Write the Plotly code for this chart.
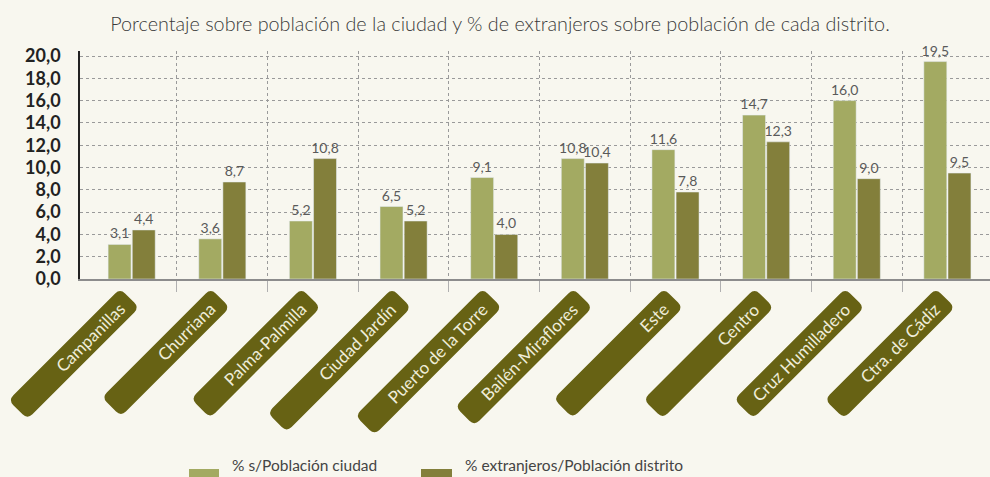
import math
import plotly.graph_objects as go

# ---------------- data ----------------
categories = ["Campanillas", "Churriana", "Palma-Palmilla", "Ciudad Jardín",
              "Puerto de la Torre", "Bailén-Miraflores", "Este", "Centro",
              "Cruz Humilladero", "Ctra. de Cádiz"]
pct_ciudad = [3.1, 3.6, 5.2, 6.5, 9.1, 10.8, 11.6, 14.7, 16.0, 19.5]
pct_extranjeros = [4.4, 8.7, 10.8, 5.2, 4.0, 10.4, 7.8, 12.3, 9.0, 9.5]
series_names = ["% s/Población ciudad", "% extranjeros/Población distrito"]
y_tick_values = [0, 2, 4, 6, 8, 10, 12, 14, 16, 18, 20]
title_text = "Porcentaje sobre población de la ciudad y % de extranjeros sobre población de cada distrito."

# ---------------- style ----------------
BG = "#f8f7ef"
C_LIGHT = "#a3aa62"
C_DARK = "#837f3b"
C_PILL = "#676214"
FONT = "Lato"
W, H = 990, 477
ML, MR, MT, MB = 80, 0, 51, 198
PW, PH = W - ML - MR, H - MT - MB
XR = [-0.57, 9.47]
YR = [0, 20.45]
# label-pill lengths (pixels along the pill axis), per category position
PILL_LENGTHS = [158, 154, 156, 176, 180, 167, 156, 157, 157, 157]
PILL_W, PILL_R = 27, 7

x_idx = list(range(len(categories)))


def xpaper(v):
    return (v - XR[0]) / (XR[1] - XR[0])


def ypaper_from_px(py):
    return (H - MB - py) / PH


fig = go.Figure()
for vals, name, col in [(pct_ciudad, series_names[0], C_LIGHT),
                        (pct_extranjeros, series_names[1], C_DARK)]:
    fig.add_trace(go.Bar(x=x_idx, y=vals, name=name,
                         marker_color=col, hovertext=categories,
                         texttemplate="%{y:.1f}", textposition="outside",
                         constraintext="none",
                         textfont=dict(family=FONT, size=14, color="#5a5a5a"),
                         cliponaxis=False, showlegend=False))

# ---------------- pill labels ----------------
S2 = math.sqrt(0.5)


def pill_path(L, Wd, r, dx):
    h = Wd / 2.0

    def pt(s, t):
        # screen coords (y down): axis a=(-S2,S2), perp p=(S2,S2)
        x = -s * S2 + t * S2 + dx
        y = s * S2 + t * S2
        return f"{x:.2f},{-y:.2f}"   # pixel mode: y up
    return ("M" + pt(r, -h) + " L" + pt(L - r, -h) + " Q" + pt(L, -h) + " " + pt(L, -h + r) +
            " L" + pt(L, h - r) + " Q" + pt(L, h) + " " + pt(L - r, h) +
            " L" + pt(r, h) + " Q" + pt(0, h) + " " + pt(0, h - r) +
            " L" + pt(0, -h + r) + " Q" + pt(0, -h) + " " + pt(r, -h) + " Z")


T_Y = ypaper_from_px(298)
DX_T = -2
shapes = []
annotations = []
for i, name in zip(x_idx, categories):
    shapes.append(dict(type="path", xref="paper", yref="paper",
                       xsizemode="pixel", ysizemode="pixel",
                       xanchor=xpaper(i), yanchor=T_Y,
                       path=pill_path(PILL_LENGTHS[i], PILL_W, PILL_R, DX_T),
                       fillcolor=C_PILL, line=dict(width=0), layer="above"))
    annotations.append(dict(x=xpaper(i), y=T_Y, xref="paper", yref="paper",
                            text=name, showarrow=False, textangle=-45,
                            xanchor="right", yanchor="top",
                            xshift=DX_T + 2.1, yshift=2.1,
                            font=dict(family=FONT, size=17, color="#efedd9")))

# ---------------- custom legend ----------------
leg_y0, leg_y1 = ypaper_from_px(485), ypaper_from_px(469)
leg_items = [(189, 219, 230, C_LIGHT, series_names[0]),
             (421, 452, 463, C_DARK, series_names[1])]
for x0, x1, xt, col, txt in leg_items:
    shapes.append(dict(type="rect", xref="paper", yref="paper",
                       x0=(x0 - ML) / PW, x1=(x1 - ML) / PW, y0=leg_y0, y1=leg_y1,
                       fillcolor=col, line=dict(width=0)))
    annotations.append(dict(x=(xt - ML) / PW, y=ypaper_from_px(465), xref="paper", yref="paper",
                            text=txt, showarrow=False, xanchor="left", yanchor="middle",
                            font=dict(family=FONT, size=15.5, color="#444444")))

fig.update_layout(
    width=W, height=H, autosize=False,
    margin=dict(l=ML, r=MR, t=MT, b=MB, pad=0),
    paper_bgcolor=BG, plot_bgcolor=BG,
    separators=",.",
    barmode="group", bargap=0.467, bargroupgap=0.05,
    title=dict(text=title_text, x=500 / W, xref="container", xanchor="center",
               y=1 - 24 / H, yref="container", yanchor="middle",
               font=dict(family=FONT, size=19.8, color="#3a3a3a", weight=300)),
    xaxis=dict(range=XR, tickmode="array", tickvals=[i + 0.5 for i in x_idx],
               showticklabels=False, showgrid=True, gridcolor="#9a9a9a",
               griddash="dot", gridwidth=1, ticks="outside", ticklen=11,
               tickcolor="#b0b0b0", tickwidth=1,
               showline=True, linecolor="#8c8c8c", linewidth=2, zeroline=False,
               fixedrange=True),
    yaxis=dict(range=YR, tickmode="array", tickvals=y_tick_values, tickformat=".1f",
               showgrid=True, gridcolor="#9a9a9a", griddash="dot", gridwidth=1,
               showline=True, linecolor="#222222", linewidth=1.5, zeroline=False,
               ticks="", ticklabelstandoff=14,
               tickfont=dict(family=FONT, size=18, color="#222222", weight="bold"),
               fixedrange=True),
    shapes=shapes, annotations=annotations,
    font=dict(family=FONT),
)

fig.write_html("out.html", config={"displayModeBar": False},
               post_script="document.body.style.margin='0px';document.body.style.padding='0px';"
                           "document.body.style.overflow='hidden';")
